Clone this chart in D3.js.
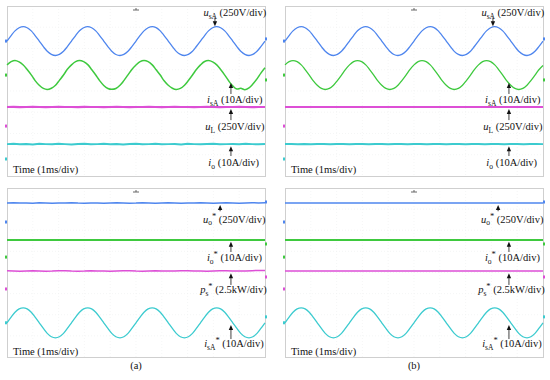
<!DOCTYPE html>
<html><head><meta charset="utf-8">
<script src="https://cdn.jsdelivr.net/npm/d3@7"></script>
<style>body{margin:0;background:#fff}svg{display:block}</style>
</head><body><svg id="c" width="550" height="380"></svg>
<script>
// ---- time samples (ms) ----
const t = [0,0.16,0.31,0.47,0.63,0.78,0.94,1.09,1.25,1.41,1.56,1.72,1.88,2.03,2.19,2.34,
 2.5,2.66,2.81,2.97,3.13,3.28,3.44,3.59,3.75,3.91,4.06,4.22,4.38,4.53,4.69,4.84,
 5,5.16,5.31,5.47,5.63,5.78,5.94,6.09,6.25,6.41,6.56,6.72,6.88,7.03,7.19,7.34,
 7.5,7.66,7.81,7.97,8.13,8.28,8.44,8.59,8.75,8.91,9.06,9.22,9.38,9.53,9.69,9.84,10];
const tF = [0,0.25,0.5,0.75,1,1.25,1.5,1.75,2,2.25,2.5,2.75,3,3.25,3.5,3.75,4,4.25,4.5,4.75,
 5,5.25,5.5,5.75,6,6.25,6.5,6.75,7,7.25,7.5,7.75,8,8.25,8.5,8.75,9,9.25,9.5,9.75,10];

// ---- series values ----
const uSA = [0,65,120,157,170,157,120,65,0,-65,-120,-157,-170,-157,-120,-65,
 0,65,121,157,171,157,120,65,0,-65,-120,-158,-170,-157,-120,-65,
 0,66,120,157,170,158,120,65,0,-65,-121,-157,-170,-157,-120,-64,
 0,65,120,157,170,157,120,65,0,-65,-120,-157,-170,-157,-120,-65,0];
const iSA_a = [4.8,6.3,6.9,6.2,4.7,2.6,0.1,-2.6,-4.8,-6.3,-6.8,-6.2,-4.8,-2.5,0,2.7,
 4.8,6.3,6.8,6.3,4.9,2.6,0,-2.6,-4.9,-6.3,-6.7,-6.3,-4.8,-2.6,0.1,2.6,
 4.7,6.3,6.8,6.3,4.8,2.5,0,-2.7,-4.8,-6.2,-6.8,-6.3,-4.8,-2.6,0,2.6,
 4.8,6.4,6.8,6.2,4.8,2.6,0,-2.7,-5.1,-6.6,-6.2,-6.9,-6.0,-4.2,-1.8,0.9,3.4];
const iSA_b = [4.8,6.3,6.8,6.3,4.8,2.6,0,-2.6,-4.8,-6.3,-6.8,-6.3,-4.8,-2.6,0,2.6,
 4.8,6.3,6.8,6.3,4.8,2.6,0,-2.6,-4.8,-6.3,-6.8,-6.3,-4.8,-2.6,0,2.6,
 4.8,6.3,6.8,6.3,4.8,2.6,0,-2.6,-4.8,-6.3,-6.8,-6.3,-4.8,-2.6,0,2.6,
 4.8,6.3,6.8,6.3,4.8,2.6,0,-2.6,-4.8,-6.3,-6.8,-6.3,-4.8,-2.6,0,2.5,4.5];
const uL_a = [224,225,223,224,225,224,223,224,225,224,224,223,225,224,224,223,224,225,224,223,
 224,224,225,224,223,224,225,224,224,223,224,225,224,223,224,224,225,224,223,224,224];
const uL_b = [224,224,224,224,224,224,224,224,224,224,224,224,224,224,224,224,224,224,224,224,
 224,224,224,224,224,224,224,224,224,224,224,224,224,224,224,224,224,224,224,224,224];
const iO_a = [7.0,7.2,6.9,7.1,6.8,7.2,7.0,6.9,7.2,7.0,6.8,7.1,7.2,6.9,7.0,7.2,6.9,7.1,6.8,7.1,
 7.2,6.9,7.0,7.2,6.9,7.0,7.1,6.8,7.2,7.0,6.9,7.1,7.2,6.9,7.0,7.1,6.9,7.2,7.0,6.9,7.1];
const iO_b = [7.05,7.1,7.0,7.1,7.0,7.05,7.1,7.0,7.05,7.1,7.0,7.05,7.1,7.0,7.05,7.1,7.0,7.1,7.05,7.0,
 7.1,7.05,7.0,7.1,7.05,7.0,7.1,7.05,7.0,7.1,7.05,7.0,7.1,7.05,7.0,7.1,7.05,7.0,7.1,7.05,7.0];
const uOs_a = [226,229,224,225,223,227,224,222,226,225,228,224,223,226,225,222,225,228,226,223,
 224,227,225,223,226,229,225,222,224,226,228,225,223,225,227,224,222,225,228,226,227];
const uOs_b = [225,226,224,225,225,224,226,225,224,225,226,225,224,225,226,224,225,225,226,224,
 225,224,226,225,224,225,226,225,224,225,225,226,224,225,224,226,225,224,225,226,225];
const iOs_a = [8.05,8.08,8.03,8.06,8.04,8.07,8.05,8.03,8.06,8.08,8.04,8.05,8.07,8.03,8.06,8.05,8.04,8.07,8.05,8.03,
 8.06,8.08,8.04,8.05,8.07,8.03,8.05,8.06,8.04,8.07,8.05,8.03,8.06,8.08,8.04,8.05,8.07,8.04,8.06,8.05,8.07];
const iOs_b = [8.05,8.06,8.04,8.05,8.06,8.05,8.04,8.05,8.06,8.05,8.04,8.05,8.06,8.04,8.05,8.06,8.05,8.04,8.05,8.06,
 8.05,8.04,8.06,8.05,8.04,8.05,8.06,8.05,8.04,8.05,8.06,8.05,8.04,8.06,8.05,8.04,8.05,8.06,8.05,8.04,8.05];
const pS_a = [2.15,2.12,2.10,2.13,2.16,2.14,2.11,2.12,2.15,2.17,2.13,2.11,2.12,2.15,2.14,2.12,2.10,2.13,2.16,2.15,
 2.12,2.11,2.13,2.16,2.14,2.12,2.13,2.15,2.17,2.14,2.12,2.11,2.14,2.16,2.15,2.13,2.12,2.14,2.17,2.18,2.19];
const pS_b = [2.13,2.14,2.13,2.12,2.13,2.14,2.13,2.13,2.12,2.13,2.14,2.13,2.12,2.13,2.13,2.14,2.13,2.12,2.13,2.14,
 2.13,2.13,2.12,2.13,2.14,2.13,2.13,2.12,2.13,2.14,2.13,2.12,2.13,2.13,2.14,2.13,2.12,2.13,2.14,2.13,2.13];
const iSAs = [0,2.7,5.0,6.6,7.1,6.6,5.0,2.7,0,-2.7,-5.0,-6.6,-7.1,-6.6,-5.0,-2.7,
 0,2.7,5.0,6.6,7.1,6.6,5.0,2.7,0,-2.7,-5.0,-6.6,-7.1,-6.6,-5.0,-2.7,
 0,2.7,5.0,6.6,7.1,6.6,5.0,2.7,0,-2.7,-5.0,-6.6,-7.1,-6.6,-5.0,-2.7,
 0,2.7,5.0,6.6,7.1,6.6,5.0,2.7,0,-2.7,-5.0,-6.6,-7.1,-6.6,-5.0,-2.7,0];
// right-edge channel markers (channel units)
const rightTop = [25, -2.3];
const rightBot = [237, 6.2, 1.42, 2.8];

const timeLabel = "Time (1ms/div)";
const captions = ["(a)", "(b)"];

// ---- drawing ----
const svg = d3.select("#c");
const FONT = "'Liberation Serif','Times New Roman',serif";
const C = {blue:"#4f86ee", green:"#3ec93e", magenta:"#dd4fd6", cyan:"#3ccbcf"};
const W = 258;
const colX = [7, 285];
const rowY = [{y0:6, h:170}, {y0:188, h:169}];

function topChannels(k){
  return [
    {v:uSA, tt:t, c:C.blue, off:2.35, per:250, w:1.3, curve:true},
    {v:k?iSA_b:iSA_a, tt:t, c:C.green, off:0.75, per:10, w:k?1.3:1.5, curve:true},
    {v:k?uL_b:uL_a, tt:tF, c:C.magenta, off:-1.65, per:250, w:2.2},
    {v:k?iO_b:iO_a, tt:tF, c:C.cyan, off:-3.2, per:10, w:2}
  ];
}
function botChannels(k){
  return [
    {v:k?uOs_b:uOs_a, tt:tF, c:C.blue, off:2.39, per:250, w:1.5},
    {v:k?iOs_b:iOs_a, tt:tF, c:C.green, off:0.73, per:10, w:2},
    {v:k?pS_b:pS_a, tt:tF, c:C.magenta, off:-0.78, per:2.5, w:1.5},
    {v:iSAs, tt:t, c:C.cyan, off:-2.38, per:10, w:1.3, curve:true}
  ];
}
const topLabels = [
  {parts:[["u","i"],["sA","sub"],[" (250V/div)","n"]], tx:10.05, ty:3.53, at:8.06, tail:3.46, tip:3.05},
  {parts:[["i","i"],["sA","sub"],[" (10A/div)","n"]], tx:9.9, ty:-0.565, at:8.68, tail:-0.14, tip:0.38},
  {parts:[["u","i"],["L","sub"],[" (250V/div)","n"]], tx:9.98, ty:-1.835, at:8.68, tail:-1.37, tip:-0.85},
  {parts:[["i","i"],["o","sub"],[" (10A/div)","n"]], tx:9.77, ty:-3.53, at:8.68, tail:-3.06, tip:-2.6}
];
const botLabels = [
  {parts:[["u","i"],["o","sub"],["*","sup"],[" (250V/div)","n"]], tx:10.02, ty:2.35, at:8.26, tail:2.9, tip:3.2},
  {parts:[["i","i"],["o","sub"],["*","sup"],[" (10A/div)","n"]], tx:9.88, ty:0.545, at:8.68, tail:0.97, tip:1.45},
  {parts:[["p","i"],["s","sub"],["*","sup"],[" (2.5kW/div)","n"]], tx:10.07, ty:-0.97, at:8.68, tail:-0.59, tip:-0.03},
  {parts:[["i","i"],["sA","sub"],["*","sup"],[" (10A/div)","n"]], tx:9.95, ty:-3.53, at:8.68, tail:-3.15, tip:-2.49}
];

function drawPanel(x0, row, chans, labels, rightVals, timeY){
  const g = svg.append("g");
  const x = d3.scaleLinear().domain([0,10]).range([x0, x0+W]);
  const y = d3.scaleLinear().domain([-4,4]).range([row.y0+row.h, row.y0]);
  // faint grid
  g.selectAll(".gv").data(d3.range(1,10)).enter().append("line")
    .attr("x1",d=>x(d)).attr("x2",d=>x(d)).attr("y1",row.y0).attr("y2",row.y0+row.h)
    .attr("stroke","#eef0f0").attr("stroke-width",0.6).attr("stroke-dasharray","1,2");
  g.selectAll(".gh").data(d3.range(-3,4)).enter().append("line")
    .attr("x1",x0).attr("x2",x0+W).attr("y1",d=>y(d)).attr("y2",d=>y(d))
    .attr("stroke","#eef0f0").attr("stroke-width",0.6).attr("stroke-dasharray","1,2");
  // border
  g.append("rect").attr("x",x0+0.5).attr("y",row.y0+0.5).attr("width",W).attr("height",row.h)
    .attr("fill","none").attr("stroke","#cfcfcf").attr("stroke-width",1);
  // trigger glyph
  const tx = x(5);
  g.append("path").attr("d",`M${tx-3},${row.y0+4}h6M${tx},${row.y0+2}v2`)
    .attr("stroke","#666").attr("stroke-width",1);
  // traces
  chans.forEach(ch=>{
    const yy = v => y(ch.off + v/ch.per);
    const line = d3.line().x((d,i)=>x(ch.tt[i])).y(d=>yy(d))
      .curve(ch.curve ? d3.curveCatmullRom.alpha(0.5) : d3.curveLinear);
    g.append("path").attr("d",line(ch.v)).attr("fill","none")
      .attr("stroke",ch.c).attr("stroke-width",ch.w);
    // ground marker
    g.append("rect").attr("x",x0-2).attr("y",yy(0)-1.5).attr("width",2).attr("height",3).attr("fill",ch.c);
  });
  rightVals.forEach((v,i)=>{
    const ch = chans[i];
    g.append("rect").attr("x",x0+W).attr("y",y(ch.off+v/ch.per)-1.5).attr("width",2).attr("height",3).attr("fill",ch.c);
  });
  // labels and arrows
  labels.forEach(L=>{
    const text = g.append("text").attr("x",x(L.tx)).attr("y",y(L.ty))
      .attr("text-anchor","end").attr("font-family",FONT).attr("font-size",10.5).attr("fill","#111");
    let cur = 0;
    L.parts.forEach(([s,k])=>{
      const sh = k==="sub" ? 2.6 : k==="sup" ? -4.2 : 0;
      const ts = text.append("tspan").text(s).attr("dy", sh-cur);
      cur = sh;
      if(k==="i") ts.attr("font-style","italic");
      if(k==="sub") ts.attr("font-size",7.5);
      if(k==="sup") ts.attr("font-size",8.5);
    });
    const ax = x(L.at), y1 = y(L.tail), y2 = y(L.tip);
    const dir = y2 < y1 ? 1 : -1; // 1: pointing up
    g.append("line").attr("x1",ax).attr("x2",ax).attr("y1",y1).attr("y2",y2+dir*4)
      .attr("stroke","#111").attr("stroke-width",0.8);
    g.append("path").attr("d",`M${ax},${y2}L${ax-2.2},${y2+dir*5}L${ax+2.2},${y2+dir*5}Z`).attr("fill","#111");
  });
  g.append("text").attr("x",x(0.23)).attr("y",y(timeY)).attr("font-family",FONT)
    .attr("font-size",10.5).attr("fill","#111").text(timeLabel);
  return x;
}

colX.forEach((x0,k)=>{
  drawPanel(x0, rowY[0], topChannels(k), topLabels, rightTop, -3.86);
  const xs = drawPanel(x0, rowY[1], botChannels(k), botLabels, rightBot, -3.9);
  svg.append("text").attr("x",xs(5)).attr("y",369).attr("text-anchor","middle")
    .attr("font-family",FONT).attr("font-size",10.5).attr("fill","#111").text(captions[k]);
});
</script></body></html>
